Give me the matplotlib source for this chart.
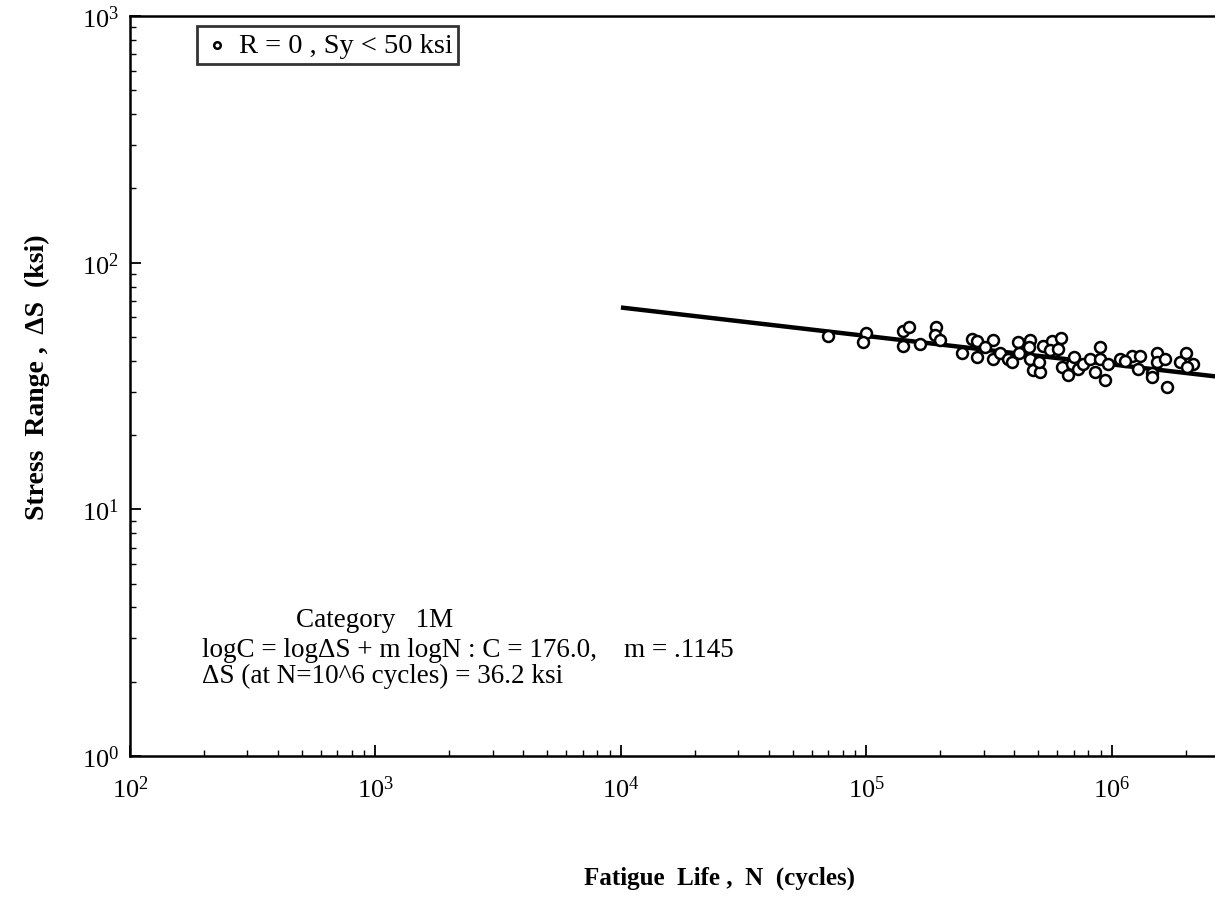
import numpy as np
import matplotlib; matplotlib.use("Agg")
import matplotlib.pyplot as plt
import matplotlib.ticker as mticker

plt.rcParams["font.family"] = ["Liberation Serif", "DejaVu Serif"]
plt.rcParams["mathtext.fontset"] = "custom"
plt.rcParams["mathtext.rm"] = "Liberation Serif"

# test data: N (cycles), stress range (ksi)
N_data = [6.97e4, 1.00e5, 9.68e4, 1.41e5, 1.49e5, 1.41e5, 1.65e5, 1.92e5, 1.90e5, 1.99e5,
          2.45e5, 2.69e5, 2.82e5, 2.82e5, 3.27e5, 3.27e5, 3.04e5, 3.50e5, 3.77e5, 3.92e5,
          4.14e5, 4.63e5, 4.58e5, 4.63e5, 4.77e5, 5.09e5, 5.04e5, 5.24e5, 5.70e5, 6.20e5,
          5.59e5, 6.03e5, 6.26e5, 6.62e5, 6.87e5, 7.27e5, 7.62e5, 8.13e5, 8.53e5, 8.93e5,
          8.93e5, 9.35e5, 9.64e5, 1.08e6, 1.21e6, 1.30e6, 1.28e6, 1.46e6, 1.46e6, 1.52e6,
          1.52e6, 1.64e6, 1.68e6, 1.89e6, 2.00e6, 2.14e6, 2.02e6, 4.20e5, 7.00e5, 1.13e6]
S_data = [50.6, 52.1, 47.9, 52.6, 55.1, 46.1, 47.0, 54.6, 51.1, 48.8,
          43.2, 49.2, 48.3, 41.6, 48.8, 40.8, 45.7, 42.9, 40.8, 39.7,
          47.9, 48.8, 45.3, 40.8, 36.6, 36.2, 39.7, 46.1, 48.3, 49.7,
          44.1, 44.5, 37.6, 34.9, 39.0, 37.2, 39.0, 40.8, 36.2, 45.3,
          40.8, 33.3, 39.0, 40.8, 42.0, 42.0, 37.2, 35.6, 34.5, 42.9,
          39.7, 40.8, 31.2, 39.7, 43.2, 39.0, 37.9, 42.9, 41.6, 40.0]

# regression line as drawn
fit_N = [1.0e4, 2.7e6]
fit_S = [65.8, 34.5]

legend_label = "R = 0 , Sy < 50 ksi"
note_lines = ["Category   1M",
              "logC = log\u0394S + m logN : C = 176.0,    m = .1145",
              "\u0394S (at N=10^6 cycles) = 36.2 ksi"]

fig = plt.figure(figsize=(12.15, 9.03), dpi=100, facecolor="white")
ax = fig.add_axes([130/1215, 1 - 757/903, 1 - 130/1215, (757 - 17)/903])

ax.plot(fit_N, fit_S, color="black", lw=3.2, solid_capstyle="butt", zorder=2)
ax.scatter(N_data, S_data, s=62, facecolors="white", edgecolors="black",
           linewidths=1.8, zorder=3, label=legend_label)

ax.set_xscale("log"); ax.set_yscale("log")
ax.set_xlim(1e2, 10**6.42)
ax.set_ylim(1e0, 1e3)

ax.spines["right"].set_visible(False)
for s in ["left", "top", "bottom"]:
    ax.spines[s].set_linewidth(1.8)

ax.xaxis.set_major_locator(mticker.LogLocator(base=10, numticks=10))
ax.yaxis.set_major_locator(mticker.LogLocator(base=10, numticks=10))
ax.xaxis.set_minor_locator(mticker.LogLocator(base=10, subs=np.arange(2, 10), numticks=20))
ax.yaxis.set_minor_locator(mticker.LogLocator(base=10, subs=np.arange(2, 10), numticks=20))
ax.xaxis.set_minor_formatter(mticker.NullFormatter())
ax.yaxis.set_minor_formatter(mticker.NullFormatter())
ax.tick_params(which="major", direction="in", length=8, width=1.3, labelsize=19)
ax.tick_params(axis="x", which="major", pad=14)
ax.tick_params(axis="y", which="major", pad=8)
ax.tick_params(which="minor", direction="in", length=4, width=1.0)
ax.tick_params(top=False, right=False)

leg = ax.legend(loc="upper left", bbox_to_anchor=(0.062, 0.986), fontsize=20.5,
                frameon=True, fancybox=False, handletextpad=0.25, borderpad=0.2,
                markerscale=0.6, scatterpoints=1, handlelength=1.0,
                borderaxespad=0.0)
leg.get_frame().set_edgecolor("black")
leg.get_frame().set_linewidth(2.0)

fig.text(296/1215, 1 - 621/903, note_lines[0], fontsize=19.5, va="center", ha="left")
fig.text(202/1215, 1 - 651/903, note_lines[1], fontsize=19.5, va="center", ha="left")
fig.text(202/1215, 1 - 676/903, note_lines[2], fontsize=19.5, va="center", ha="left")

fig.text(37/1215, 1 - 377/903, "Stress  Range ,  \u0394S  (ksi)", rotation=90,
         fontsize=20, fontweight="bold", ha="center", va="center")
fig.text(720/1215, 1 - 878/903, "Fatigue  Life ,  N  (cycles)",
         fontsize=18, fontweight="bold", ha="center", va="center")

fig.savefig("out.png", dpi=100, facecolor="white")
